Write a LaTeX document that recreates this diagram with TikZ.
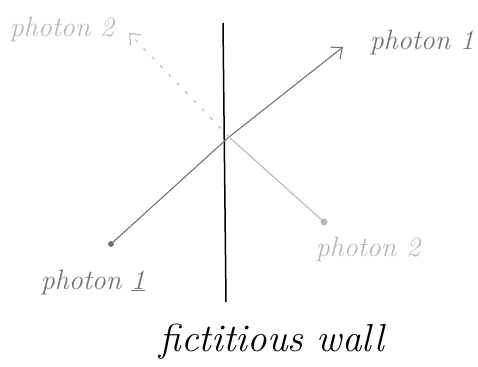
\documentclass[tikz,border=0pt]{standalone}
\usetikzlibrary{arrows.meta}
\definecolor{pone}{gray}{0.45}
\definecolor{ptwo}{gray}{0.72}
\tikzset{
  lbl/.style={font=\itshape\fontsize{28}{28}\selectfont, inner sep=0pt},
  dotnode/.style={circle, fill, inner sep=0pt, minimum size=6pt},
  ray/.style={line width=1.1pt, line cap=round},
  tip/.style={-{Straight Barb[length=9pt,width=15pt,line width=1.1pt]}}
}
\begin{document}
\begin{tikzpicture}[x=1pt,y=-1pt]
\useasboundingbox (0,0) rectangle (478,366);
% wall
\coordinate (wtop) at (223,23);
\coordinate (wbot) at (226,302);
\draw[line width=1.5pt, black] (wtop) -- (wbot);
\coordinate (cross) at (229,137);
% photon 1
\node[dotnode, pone] (d1) at (111,244) {};
\coordinate (t1) at (343,47);
\draw[ray, pone] (d1) -- (cross);
\draw[ray, pone, tip] (cross) -- (t1);
% photon 2
\node[dotnode, ptwo, minimum size=7pt] (d2) at (324,222) {};
\coordinate (t2) at (129,33);
\draw[ray, ptwo] (cross) -- (d2);
\draw[ray, ptwo, dash pattern=on 3pt off 9pt, tip] (cross) -- (t2);
% labels
\node[lbl, ptwo] (l2a) at (62,30) {photon 2};
\node[lbl, pone] (l1a) at (422,43) {photon 1};
\node[lbl, pone] (l1b) at (93,282) {photon \underline{1}};
\node[lbl, ptwo] (l2b) at (368,249) {photon 2};
\node[font=\itshape\fontsize{39}{39}\selectfont, inner sep=0pt] (wall) at (272,342) {fictitious wall};
\end{tikzpicture}
\end{document}
